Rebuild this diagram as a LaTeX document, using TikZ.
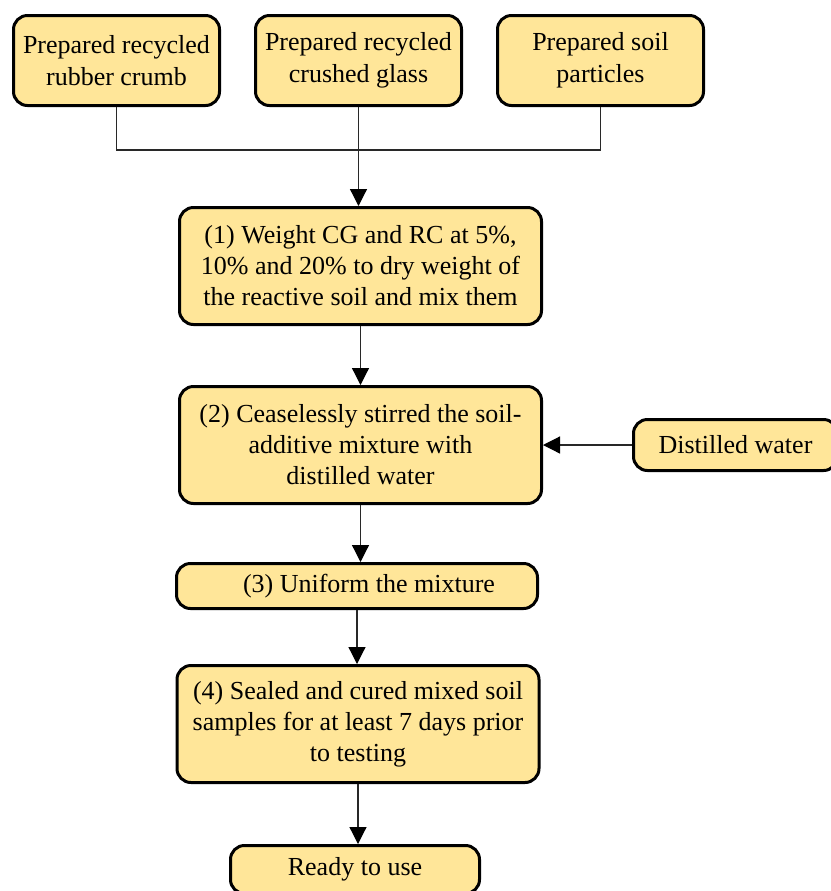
\documentclass[tikz,border=0pt]{standalone}
\usepackage{fontspec}
\setmainfont{Liberation Serif}
\usetikzlibrary{arrows.meta,positioning}
\definecolor{boxColor}{RGB}{255,230,153}
\definecolor{lineColor}{RGB}{40,40,40}
\tikzset{stepbox/.style={draw, fill=boxColor, line width=1.5pt, rounded corners=7pt, align=center, inner sep=2pt, font=\fontsize{13}{16}\selectfont}}
\tikzset{source/.style={stepbox, minimum width=103pt, minimum height=45pt}}
\tikzset{process/.style={stepbox, minimum width=181pt, minimum height=58.5pt, font=\fontsize{13}{15.5}\selectfont}}
\tikzset{link/.style={draw=lineColor, line width=0.6pt}}
\tikzset{flow/.style={link, -{Triangle[width=8.5pt, length=8.5pt, color=black]}}}

\begin{document}
\begin{tikzpicture}[node distance=28.5pt and 16.5pt]
	% Frame
	\useasboundingbox (0,0) rectangle (415.5pt,-445.5pt);
	
		% Nodes
		\node (rubber) [source] at (58.25pt,-30.25pt) {Prepared recycled\\ rubber crumb};
		\node (glass) [source, right=of rubber] {Prepared recycled\\ crushed glass};
		\node (soil) [source, right=of glass] {Prepared soil\\ particles};
		\coordinate [below=21.5pt of glass] (joint);
		
		\node (weight) [process, below=49.5pt of glass, xshift=1pt] {(1) Weight CG and RC at 5\%,\\ 10\% and 20\% to dry weight of\\ the reactive soil and mix them};
		\node (stir) [process, below=29.5pt of weight] {(2) Ceaselessly stirred the soil-\\ additive mixture with\\ distilled water};
		\node (water) [stepbox, minimum width=102pt, minimum height=25.5pt, anchor=west] at ([xshift=44.5pt]stir.east) {Distilled water};
		\node (uniform) [stepbox, minimum width=180.5pt, minimum height=22.5pt, below=28.5pt of stir, xshift=-1.75pt] {\hspace{12pt}(3) Uniform the mixture};
		\node (cure) [process, below=27pt of uniform, xshift=0.5pt] {(4) Sealed and cured mixed soil\\ samples for at least 7 days prior\\ to testing};
		\node (ready) [stepbox, minimum width=124.5pt, minimum height=24pt, below=30pt of cure, xshift=-1.5pt] {Ready to use};
		
		% Connectors
		\draw [link] (rubber.south) |- (joint) -| (soil.south);
		\draw [flow] (glass.south) -- (glass.south |- weight.north);
		\draw [flow] (weight.south) -- (weight.south |- stir.north);
		\draw [flow] (water.west) -- (stir.east |- water.west);
		\draw [flow] (stir.south) -- (stir.south |- uniform.north);
		\draw [flow] (uniform.south) -- (uniform.south |- cure.north);
		\draw [flow] (cure.south) -- (cure.south |- ready.north);

\end{tikzpicture}
\end{document}
